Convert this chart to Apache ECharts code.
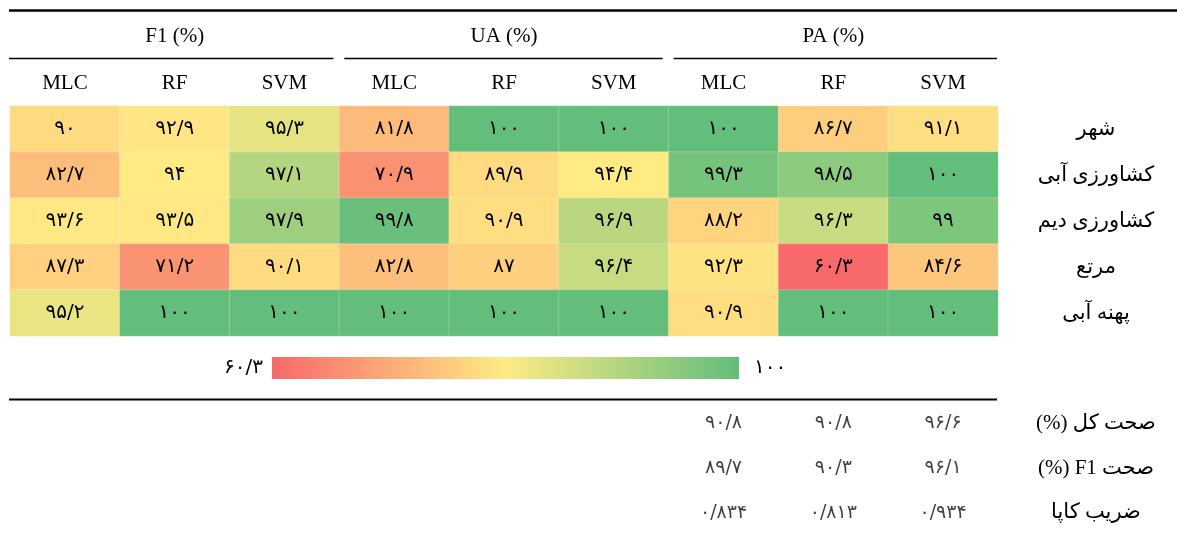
<!DOCTYPE html>
<html>
<head>
<meta charset="utf-8">
<script src="https://cdn.jsdelivr.net/npm/echarts@6/dist/echarts.min.js"></script>
<style>
  html, body { margin: 0; padding: 0; background: #ffffff; }
  #main { width: 1177px; height: 535px; }
</style>
</head>
<body>
<div id="main"></div>
<script>
// Accuracy metrics of three classifiers per land-cover class
const metricGroups = ['F1 (%)', 'UA (%)', 'PA (%)'];
const methods = ['MLC', 'RF', 'SVM'];
const landClasses = ['شهر', 'کشاورزی آبی', 'کشاورزی دیم', 'مرتع', 'پهنه آبی'];

// one row per class, columns: MLC, RF, SVM
const f1Values = [[90, 92.9, 95.3], [82.7, 94, 97.1], [93.6, 93.5, 97.9], [87.3, 71.2, 90.1], [95.2, 100, 100]];
const uaValues = [[81.8, 100, 100], [70.9, 89.9, 94.4], [99.8, 90.9, 96.9], [82.8, 87, 96.4], [100, 100, 100]];
const paValues = [[100, 86.7, 91.1], [99.3, 98.5, 100], [88.2, 96.3, 99], [92.3, 60.3, 84.6], [90.9, 100, 100]];

// overall figures, columns: MLC, RF, SVM
const summaryLabels = ['صحت کل (%)', 'صحت F1 (%)', 'ضریب کاپا'];
const overallAccuracy = [90.8, 90.8, 96.6];
const overallF1 = [89.7, 90.3, 96.1];
const kappaValues = [0.834, 0.813, 0.934];

const scaleColors = ['#F8696B', '#FFEB84', '#63BE7B'];

const SERIF = '"Liberation Serif", "Times New Roman", serif';
const ARABIC = '"DejaVu Sans", sans-serif';
const LABEL_FONT = '"Liberation Serif", "DejaVu Sans", serif';

// Persian digits with "/" as decimal separator
const faDigits = '۰۱۲۳۴۵۶۷۸۹';
function toFa(v) {
  return String(v).replace('.', '/').replace(/[0-9]/g, d => faDigits[+d]);
}
// right-to-left embedding for Persian labels
function rtl(s) { return '\u202B' + s + '\u202C'; }

const metricTables = [f1Values, uaValues, paValues];
const columns = [];
metricGroups.forEach(g => methods.forEach(m => columns.push(g + '|' + m)));

const heatData = [];
landClasses.forEach((c, r) => {
  metricTables.forEach((table, g) => {
    table[r].forEach((v, m) => heatData.push([g * 3 + m, r, v]));
  });
});

const summaryTables = [overallAccuracy, overallF1, kappaValues];
const summaryData = [];
summaryTables.forEach((row, r) => {
  row.forEach((v, m) => summaryData.push([6 + m, r, v]));
});

// three-colour scale: red at min, yellow at the median, green at max
const allValues = heatData.map(d => d[2]);
const sortedVals = allValues.slice().sort((a, b) => a - b);
const lo = sortedVals[0];
const hi = sortedVals[sortedVals.length - 1];
const mid = sortedVals[Math.floor(sortedVals.length / 2)];

function hexToRgb(h) {
  return [1, 3, 5].map(i => parseInt(h.slice(i, i + 2), 16));
}
function mix(a, b, t) {
  const A = hexToRgb(a), B = hexToRgb(b);
  return 'rgb(' + A.map((x, i) => Math.round(x + (B[i] - x) * t)).join(',') + ')';
}
const STEPS = 240;
const mappedColors = [];
for (let i = 0; i <= STEPS; i++) {
  const v = lo + (hi - lo) * i / STEPS;
  mappedColors.push(v <= mid
    ? mix(scaleColors[0], scaleColors[1], (v - lo) / (mid - lo))
    : mix(scaleColors[1], scaleColors[2], (v - mid) / (hi - mid)));
}

const GRID_LEFT = 10, GRID_RIGHT = 179;

const option = {
  animation: false,
  backgroundColor: '#ffffff',
  grid: [
    { left: GRID_LEFT, right: GRID_RIGHT, top: 106, height: 230 },
    { left: GRID_LEFT, right: GRID_RIGHT, top: 401, height: 135 }
  ],
  xAxis: [
    {
      type: 'category', gridIndex: 0, data: columns, position: 'top',
      axisLine: { show: false }, axisTick: { show: false }, splitLine: { show: false },
      axisLabel: {
        interval: 0, margin: 12, color: '#000', fontFamily: SERIF, fontSize: 21,
        formatter: v => v.split('|')[1]
      }
    },
    {
      type: 'category', gridIndex: 1, data: columns, show: false
    }
  ],
  yAxis: [
    {
      type: 'category', gridIndex: 0, data: landClasses, inverse: true, position: 'right',
      axisLine: { show: false }, axisTick: { show: false }, splitLine: { show: false },
      axisLabel: {
        margin: 98, align: 'center', color: '#000', fontFamily: LABEL_FONT, fontSize: 21,
        formatter: rtl
      }
    },
    {
      type: 'category', gridIndex: 1, data: summaryLabels, inverse: true, position: 'right',
      axisLine: { show: false }, axisTick: { show: false }, splitLine: { show: false },
      axisLabel: {
        margin: 98, align: 'center', color: '#000', fontFamily: LABEL_FONT, fontSize: 21,
        formatter: rtl
      }
    }
  ],
  visualMap: [
    {
      type: 'continuous', show: false, seriesIndex: 0, min: lo, max: hi,
      inRange: { color: mappedColors }
    }
  ],
  series: [
    {
      type: 'heatmap', xAxisIndex: 0, yAxisIndex: 0, data: heatData,
      itemStyle: { borderColor: 'rgba(255,255,255,0.35)', borderWidth: 0.6 },
      label: {
        show: true, color: '#000', fontFamily: ARABIC, fontSize: 20,
        formatter: p => toFa(p.value[2])
      },
      emphasis: { disabled: true }
    },
    {
      type: 'scatter', xAxisIndex: 1, yAxisIndex: 1, data: summaryData,
      symbolSize: 1, itemStyle: { color: 'rgba(0,0,0,0)' }, silent: true,
      label: {
        show: true, position: 'inside', color: '#111', fontFamily: ARABIC, fontSize: 19,
        formatter: p => toFa(p.value[2])
      }
    }
  ]
};

const chart = echarts.init(document.getElementById('main'), null, { renderer: 'canvas' });
chart.setOption(option);

// table rules, group headers and colour-scale legend placed from the axis geometry
function colEdges(i) {
  const c = chart.convertToPixel({ xAxisIndex: 0 }, columns[i]);
  const w = chart.convertToPixel({ xAxisIndex: 0 }, columns[1]) - chart.convertToPixel({ xAxisIndex: 0 }, columns[0]);
  return [c - w / 2, c + w / 2];
}
const graphics = [];
const tableLeft = colEdges(0)[0];
const tableRight = colEdges(8)[1];
graphics.push({
  type: 'line', silent: true,
  shape: { x1: tableLeft - 1, y1: 10.5, x2: 1177, y2: 10.5 },
  style: { stroke: '#000', lineWidth: 2.6 }
});
metricGroups.forEach((g, k) => {
  const left = colEdges(k * 3)[0];
  const right = colEdges(k * 3 + 2)[1];
  graphics.push({
    type: 'text', silent: true,
    style: {
      text: g, x: (left + right) / 2, y: 36, textAlign: 'center', textVerticalAlign: 'middle',
      font: '21px ' + SERIF, fill: '#000'
    }
  });
  graphics.push({
    type: 'line', silent: true,
    shape: { x1: left + (k > 0 ? 5 : -1), y1: 58.5, x2: right - (k < 2 ? 6 : 1), y2: 58.5 },
    style: { stroke: '#000', lineWidth: 1.3 }
  });
});
graphics.push({
  type: 'line', silent: true,
  shape: { x1: tableLeft - 1, y1: 399.5, x2: tableRight - 1, y2: 399.5 },
  style: { stroke: '#000', lineWidth: 2.2 }
});

// colour-scale legend
const BAR_X = 272, BAR_Y = 357, BAR_W = 467, BAR_H = 22;
graphics.push({
  type: 'rect', silent: true,
  shape: { x: BAR_X, y: BAR_Y, width: BAR_W, height: BAR_H },
  style: {
    fill: new echarts.graphic.LinearGradient(0, 0, 1, 0, [
      { offset: 0, color: scaleColors[0] },
      { offset: 0.5, color: scaleColors[1] },
      { offset: 1, color: scaleColors[2] }
    ])
  }
});
graphics.push({
  type: 'text', silent: true,
  style: {
    text: toFa(lo), x: BAR_X - 9, y: BAR_Y + BAR_H / 2, textAlign: 'right', textVerticalAlign: 'middle',
    font: '20px ' + ARABIC, fill: '#000'
  }
});
graphics.push({
  type: 'text', silent: true,
  style: {
    text: toFa(hi), x: BAR_X + BAR_W + 15, y: BAR_Y + BAR_H / 2, textAlign: 'left', textVerticalAlign: 'middle',
    font: '20px ' + ARABIC, fill: '#000'
  }
});
chart.setOption({ graphic: graphics });
</script>
</body>
</html>
